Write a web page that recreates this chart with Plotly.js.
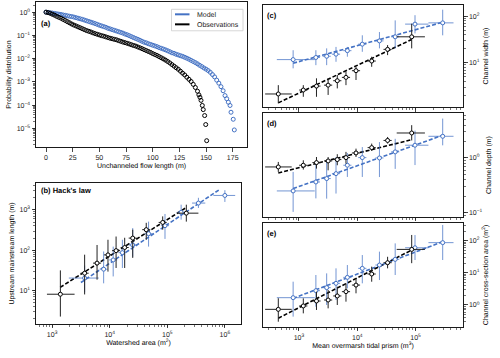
<!DOCTYPE html>
<html>
<head>
<meta charset="utf-8">
<script src="https://cdn.plot.ly/plotly-3.0.1.min.js"></script>
<style>
  html, body { margin: 0; padding: 0; background: #fff; }
  #graphDiv { width: 500px; height: 358px; }
  #graphDiv text { -webkit-font-smoothing: antialiased; text-rendering: geometricPrecision; }
</style>
</head>
<body>
<div id="graphDiv"></div>
<script>
// (a) exceedance probability of unchanneled flow length
var obsLen = [0,2,4,6,8,10,12,14,16,18,20,22,24,26,28,30,32,34,36,38,40,42,44,46,48,50,52,54,56,58,60,62,64,66,68,70,72,74,76,78,80,82,84,86,88,90,92,94,96,98,100,102,104,106,108,110,112,114,116,118,120,122,124,126,128,130,132,134,136,138,140,142,143.3,144.3,145.3,146.5,147.4,148.7,149.7,150.6];
var obsProb = [1.0,0.955,0.89,0.81,0.74,0.66,0.60,0.55,0.49,0.44,0.39,0.35,0.31,0.28,0.257,0.234,0.214,0.195,0.178,0.162,0.151,0.141,0.129,0.120,0.112,0.105,0.098,0.093,0.087,0.081,0.076,0.072,0.068,0.065,0.060,0.056,0.052,0.049,0.046,0.043,0.040,0.037,0.035,0.032,0.0295,0.027,0.0245,0.0224,0.0204,0.0186,0.0166,0.0151,0.0138,0.0123,0.011,0.0098,0.0087,0.0076,0.0066,0.0056,0.0048,0.0041,0.0035,0.0029,0.0024,0.002,0.0016,0.0013,0.00105,0.00079,0.00058,0.0004,0.00028,0.00022,0.000162,0.000098,0.000065,0.000036,0.0000148,0.000003];
var modLen = [0,2,4,6,8,10,12,14,16,18,20,22,24,26,28,30,32,34,36,38,40,42,44,46,48,50,52,54,56,58,60,62,64,66,68,70,72,74,76,78,80,82,84,86,88,90,92,94,96,98,100,102,104,106,108,110,112,114,116,118,120,122,124,126,128,130,132,134,136,138,140,142,144,146,148,150,152,154,156,158,160,162,164,166,167.8,169.4,170.9,172.5,173.4,175.5,176.5];
var modProb = [1.0,0.977,0.944,0.912,0.881,0.851,0.822,0.794,0.759,0.733,0.70,0.668,0.646,0.617,0.582,0.55,0.519,0.49,0.457,0.427,0.398,0.372,0.347,0.324,0.299,0.275,0.257,0.24,0.224,0.204,0.191,0.178,0.166,0.155,0.145,0.135,0.126,0.115,0.107,0.098,0.089,0.081,0.074,0.068,0.062,0.056,0.051,0.048,0.044,0.041,0.038,0.0355,0.033,0.030,0.028,0.026,0.024,0.022,0.020,0.018,0.017,0.0155,0.0145,0.0135,0.0126,0.0115,0.0105,0.0095,0.0085,0.0076,0.0068,0.006,0.0052,0.0046,0.004,0.00355,0.0031,0.0026,0.00209,0.00166,0.0012,0.00089,0.00063,0.00042,0.00026,0.00019,0.000135,0.0000977,0.00005,0.000025,0.0000087];
var legendNames = ['Model', 'Observations'];

// (b) Hack's law
var hackObsArea = [1390,3670,6030,9330,12900,18200,25100,43100,83200,214000];
var hackObsAreaLo = [813,3120,5130,7940,10980,15490,21360,36680,70810,148000];
var hackObsAreaHi = [2455,4310,7090,10960,15160,21390,29490,50640,97760,347000];
var hackObsLen = [8.1,26.9,47.9,76.7,97.7,117,200,324,490,832];
var hackObsLenLo = [2.26,8,18.6,29.5,36.3,36.3,64.6,182,324,513];
var hackObsLenHi = [31.6,77.6,135,182,219,204,324,479,692,1350];
var hackModArea = [3670,7850,11500,16600,25100,47300,91200,174000,347000,1000000];
var hackModAreaLo = [1950,6680,9790,14130,21360,40260,77620,148100,269000,631000];
var hackModAreaHi = [6460,9220,13510,19510,29490,55580,107200,204500,457000,1510000];
var hackModLen = [20.4,33.9,57.5,87.1,135,257,407,871,1480,2290];
var hackModLenLo = [9.1,15.1,22.4,36.3,69.2,123,191,575,1120,1580];
var hackModLenHi = [41.7,93.3,123,182,355,513,794,1350,2000,3090];
var hackObsFitX = [1380,204000], hackObsFitY = [12.0,1100];
var hackModFitX = [3160,794000], hackModFitY = [15.8,3160];

// (c)-(e) tidal prism bins
var prismObs = [442,1186,1995,3162,4540,6400,9510,17660,33100,85700];
var prismObsLo = [263,1009,1698,2691,3864,5447,8094,15030,28170,47400];
var prismObsHi = [750,1394,2344,3715,5335,7520,11170,20750,38890,144500];
var prismMod = [794,1950,2985,4315,6760,12190,23990,44670,97700,291700];
var prismModLo = [417,1660,2540,3672,5753,10370,20420,38020,66100,166000];
var prismModHi = [1862,2291,3507,5070,7943,14320,28190,52490,166000,447000];

var widthObs = [2.14,2.6,3.16,3.31,4.12,4.86,6.76,10.9,19.4,36.1];
var widthObsLo = [1.35,1.86,1.86,2.04,2.82,3.31,4.27,8.2,14.6,20.4];
var widthObsHi = [3.31,3.31,4.64,4.64,5.46,6.46,8.2,13.5,24,69];
var widthMod = [11.7,13.0,13.8,15.3,18.2,25.1,29.5,36.1,67.6,71.9];
var widthModLo = [7.6,8.9,8.9,10.5,13.5,17.2,20.4,20.4,42.7,38.9];
var widthModHi = [18.6,18.6,20.4,21.9,21.9,38.9,45.7,81.3,105,138];
var widthObsFit = [1.38,31.6], widthModFit = [9.8,74.1];

var depthObs = [0.684,0.735,0.822,0.881,0.933,1.014,1.233,1.545,2.09,2.86];
var depthObsLo = [0.555,0.612,0.638,0.594,0.735,0.787,1.04,1.34,1.83,2.09];
var depthObsHi = [0.845,0.906,1.04,1.04,1.17,1.29,1.48,1.83,2.42,3.98];
var depthMod = [0.249,0.363,0.419,0.516,0.735,1.014,1.0,1.29,1.71,2.49];
var depthModLo = [0.103,0.182,0.18,0.223,0.449,0.449,0.447,0.63,0.741,1.70];
var depthModHi = [0.555,0.794,0.906,1.04,1.23,1.58,1.95,2.24,3.16,5.25];
var depthObsFit = [0.532,2.16], depthModFit = [0.275,2.6];

var areaObs = [0.733,0.933,1.33,1.43,1.91,2.6,4.17,9.2,20.7,53.7];
var areaObsLo = [0.302,0.55,0.7,0.787,1.0,1.27,2.31,5.3,13.8,20];
var areaObsHi = [1.62,1.61,2.6,2.92,3.72,4.72,6.76,15.6,31.6,151];
var areaMod = [1.69,2.79,3.47,4.72,7.24,13.8,17.5,26.3,60.3,87.1];
var areaModLo = [0.434,0.887,1.0,1.43,3.3,4.72,5.98,8.57,25.1,25.1];
var areaModHi = [5.31,8.57,9.64,13.8,17.5,35.8,45.7,82.6,150,309];
var areaObsFit = [0.389,51.3], areaModFit = [1.61,93.3];

var BLUE = '#4472c4';
var BLUE_BAR = 'rgba(68,114,196,0.75)';
var FONT = 'Liberation Sans, Arial, sans-serif';
var TXT = '#1a1a1a';

function binTrace(x, xLo, xHi, y, yLo, yHi, color, barColor, xa, ya) {
  return {
    x: x, y: y, xaxis: xa, yaxis: ya, type: 'scatter', mode: 'markers', showlegend: false,
    marker: {symbol: 'circle', size: 4, color: 'white', line: {color: color, width: 1}},
    error_y: {type: 'data', symmetric: false, color: barColor, thickness: 1, width: 0,
      array: yHi.map(function(v, i) { return v - y[i]; }),
      arrayminus: y.map(function(v, i) { return v - yLo[i]; })},
    error_x: {type: 'data', symmetric: false, color: barColor, thickness: 1, width: 0,
      array: xHi.map(function(v, i) { return v - x[i]; }),
      arrayminus: x.map(function(v, i) { return v - xLo[i]; })}
  };
}

function fitTrace(x, y, color, xa, ya) {
  return {x: x, y: y, xaxis: xa, yaxis: ya, type: 'scatter', mode: 'lines', showlegend: false,
    line: {color: color, width: 1.6, dash: '4px,2px'}};
}

function sup(n) { return '10<sup>' + (n < 0 ? '\u2212' + (-n) : n) + '</sup>'; }

function logAxis(domain, range, powers, extra) {
  var ax = {
    type: 'log', domain: domain, range: range, automargin: false,
    tickmode: 'array', tickvals: powers.map(function(p) { return Math.pow(10, p); }),
    ticktext: powers.map(sup),
    ticks: 'outside', ticklen: 3.5, tickwidth: 0.8, tickcolor: TXT,
    minor: {ticks: 'outside', ticklen: 2, tickwidth: 0.6, tickcolor: TXT, dtick: 'D1'},
    showline: true, linecolor: TXT, linewidth: 1, mirror: true,
    showgrid: false, zeroline: false,
    tickfont: {family: FONT, size: 7, color: TXT}
  };
  for (var k in extra) ax[k] = extra[k];
  return ax;
}

function titleOf(text, standoff) {
  return {text: text, standoff: standoff, font: {family: FONT, size: 7, color: '#000000'}};
}

function drawGraph() {
  var data = [
    {x: modLen, y: modProb, type: 'scatter', mode: 'markers', showlegend: false,
      marker: {symbol: 'circle-open', size: 4, color: BLUE, line: {width: 1}}},
    {x: obsLen, y: obsProb, type: 'scatter', mode: 'markers', showlegend: false,
      marker: {symbol: 'circle-open', size: 4, color: '#000', line: {width: 1}}},

    fitTrace(hackModFitX, hackModFitY, BLUE, 'x2', 'y2'),
    fitTrace(hackObsFitX, hackObsFitY, '#000', 'x2', 'y2'),
    binTrace(hackModArea, hackModAreaLo, hackModAreaHi, hackModLen, hackModLenLo, hackModLenHi, BLUE, BLUE_BAR, 'x2', 'y2'),
    binTrace(hackObsArea, hackObsAreaLo, hackObsAreaHi, hackObsLen, hackObsLenLo, hackObsLenHi, '#000', '#222', 'x2', 'y2'),

    fitTrace([prismMod[0], prismMod[9]], widthModFit, BLUE, 'x3', 'y3'),
    fitTrace([prismObs[0], prismObs[9]], widthObsFit, '#000', 'x3', 'y3'),
    binTrace(prismMod, prismModLo, prismModHi, widthMod, widthModLo, widthModHi, BLUE, BLUE_BAR, 'x3', 'y3'),
    binTrace(prismObs, prismObsLo, prismObsHi, widthObs, widthObsLo, widthObsHi, '#000', '#222', 'x3', 'y3'),

    fitTrace([prismMod[0], prismMod[9]], depthModFit, BLUE, 'x4', 'y4'),
    fitTrace([prismObs[0], prismObs[9]], depthObsFit, '#000', 'x4', 'y4'),
    binTrace(prismMod, prismModLo, prismModHi, depthMod, depthModLo, depthModHi, BLUE, BLUE_BAR, 'x4', 'y4'),
    binTrace(prismObs, prismObsLo, prismObsHi, depthObs, depthObsLo, depthObsHi, '#000', '#222', 'x4', 'y4'),

    fitTrace([prismMod[0], prismMod[9]], areaModFit, BLUE, 'x5', 'y5'),
    fitTrace([prismObs[0], prismObs[9]], areaObsFit, '#000', 'x5', 'y5'),
    binTrace(prismMod, prismModLo, prismModHi, areaMod, areaModLo, areaModHi, BLUE, BLUE_BAR, 'x5', 'y5'),
    binTrace(prismObs, prismObsLo, prismObsHi, areaObs, areaObsLo, areaObsHi, '#000', '#222', 'x5', 'y5')
  ];

  // compact legend for panel (a): box, line samples and labels in paper units
  var shapes = [
    {type: 'rect', xref: 'paper', yref: 'paper', x0: 0.343, x1: 0.486, y0: 0.914, y1: 0.974,
      line: {color: '#ccc', width: 0.8}, fillcolor: 'rgba(255,255,255,0.9)', layer: 'above'},
    {type: 'line', xref: 'paper', yref: 'paper', x0: 0.350, x1: 0.379, y0: 0.960, y1: 0.960,
      line: {color: BLUE, width: 2}, layer: 'above'},
    {type: 'line', xref: 'paper', yref: 'paper', x0: 0.350, x1: 0.379, y0: 0.932, y1: 0.932,
      line: {color: '#000', width: 2}, layer: 'above'}
  ];

  var labelFont = {family: FONT, size: 7.5, color: '#000'};
  var annotations = [
    {text: legendNames[0], xref: 'paper', yref: 'paper', x: 0.389, y: 0.960, xanchor: 'left', yanchor: 'middle', showarrow: false, font: {family: FONT, size: 7, color: TXT}},
    {text: legendNames[1], xref: 'paper', yref: 'paper', x: 0.389, y: 0.932, xanchor: 'left', yanchor: 'middle', showarrow: false, font: {family: FONT, size: 7, color: TXT}},
    {text: '<b>(a)</b>', xref: 'paper', yref: 'paper', x: 0.078, y: 0.935, xanchor: 'left', yanchor: 'middle', showarrow: false, font: labelFont},
    {text: "<b>(b) Hack's law</b>", xref: 'paper', yref: 'paper', x: 0.078, y: 0.469, xanchor: 'left', yanchor: 'middle', showarrow: false, font: labelFont},
    {text: '<b>(c)</b>', xref: 'paper', yref: 'paper', x: 0.530, y: 0.958, xanchor: 'left', yanchor: 'middle', showarrow: false, font: labelFont},
    {text: '<b>(d)</b>', xref: 'paper', yref: 'paper', x: 0.530, y: 0.656, xanchor: 'left', yanchor: 'middle', showarrow: false, font: labelFont},
    {text: '<b>(e)</b>', xref: 'paper', yref: 'paper', x: 0.530, y: 0.349, xanchor: 'left', yanchor: 'middle', showarrow: false, font: labelFont}
  ];

  var layout = {
    width: 500, height: 358,
    margin: {l: 0, r: 0, t: 0, b: 0},
    paper_bgcolor: '#fff', plot_bgcolor: '#fff',
    font: {family: FONT, size: 7, color: '#000000'},
    showlegend: false,
    shapes: shapes,
    annotations: annotations,

    xaxis: {domain: [0.072, 0.494], range: [-9.4, 188.4], anchor: 'y', automargin: false,
      tickmode: 'array', tickvals: [0,25,50,75,100,125,150,175],
      ticks: 'outside', ticklen: 3.5, tickwidth: 0.8, tickcolor: TXT,
      showline: true, linecolor: TXT, linewidth: 1, mirror: true, showgrid: false, zeroline: false,
      tickfont: {family: FONT, size: 7, color: TXT},
      title: titleOf('Unchanneled flow length (m)', 3)},
    yaxis: logAxis([0.589, 0.994], [-5.8, 0.43], [-5,-4,-3,-2,-1,0],
      {anchor: 'x', title: titleOf('Probability distribution', 4)}),

    xaxis2: logAxis([0.072, 0.482], [2.72, 6.28], [3,4,5,6],
      {anchor: 'y2', title: titleOf('Watershed area (m<sup>2</sup>)', 3)}),
    yaxis2: logAxis([0.095, 0.489], [0.17, 3.67], [1,2,3],
      {anchor: 'x2', title: titleOf('Upstream mainstream length (m)', 4)}),

    xaxis3: logAxis([0.526, 0.926], [2.383, 5.813], [3,4,5],
      {anchor: 'y3', showticklabels: false}),
    yaxis3: logAxis([0.701, 0.986], [0.05, 2.24], [1,2],
      {anchor: 'x3', side: 'right', title: titleOf('Channel width (m)', 4)}),

    xaxis4: logAxis([0.526, 0.926], [2.383, 5.813], [3,4,5],
      {anchor: 'y4', showticklabels: false}),
    yaxis4: logAxis([0.394, 0.684], [-1.08, 0.82], [-1,0],
      {anchor: 'x4', side: 'right', title: titleOf('Channel depth (m)', 4)}),

    xaxis5: logAxis([0.526, 0.926], [2.383, 5.813], [3,4,5],
      {anchor: 'y5', title: titleOf('Mean overmarsh tidal prism (m<sup>3</sup>)', 3)}),
    yaxis5: logAxis([0.087, 0.377], [-0.68, 2.55], [0,1,2],
      {anchor: 'x5', side: 'right', title: titleOf('Channel cross-section area (m<sup>2</sup>)', 4)})
  };

  Plotly.newPlot('graphDiv', data, layout, {displayModeBar: false, staticPlot: true});
}

document.addEventListener('DOMContentLoaded', drawGraph, false);
</script>
</body>
</html>
